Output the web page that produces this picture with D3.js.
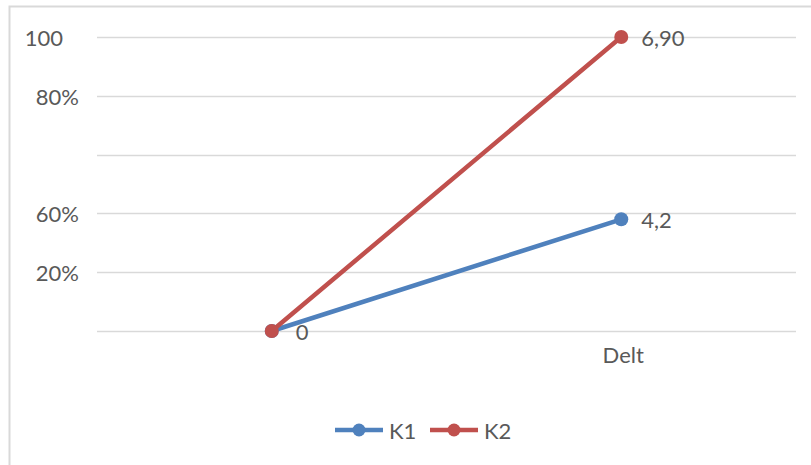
<!DOCTYPE html>
<html>
<head>
<meta charset="utf-8">
<script src="https://cdn.jsdelivr.net/npm/d3@7"></script>
<style>
  html, body { margin: 0; padding: 0; background: #fff; }
  svg { display: block; }
  text { font-family: Lato, "Open Sans", "Liberation Sans", sans-serif; fill: #595959; }
</style>
</head>
<body>
<svg id="chart" width="811" height="465"></svg>
<script>
// Categories along the x axis (first one is unlabeled)
const categories = ["", "Delt"];

// Series values
const k1Values = [0, 4.2];
const k2Values = [0, 6.9];

// Value labels shown next to the points
const k1Labels = ["0", "4,2"];
const k2Labels = ["", "6,90"];

// Y axis tick labels, from bottom gridline to top gridline
const yTickLabels = ["", "20%", "60%", "", "80%", "100"];

const series = [
  { name: "K1", values: k1Values, labels: k1Labels, color: "#4F81BD" },
  { name: "K2", values: k2Values, labels: k2Labels, color: "#C0504D" }
];

const FONT = 22;
const svg = d3.select("#chart");
const W = 811, H = 465;

// Chart frame
svg.append("rect")
  .attr("x", 9.5).attr("y", 6.5)
  .attr("width", W + 10).attr("height", H + 10)
  .attr("fill", "#fff")
  .attr("stroke", "#d9d9d9").attr("stroke-width", 2);

const plot = { left: 97, right: 796, top: 37, bottom: 331 };

const x = d3.scaleBand()
  .domain(categories.map((d, i) => i))
  .range([plot.left, plot.right]);

// Gridline slots (0 = bottom gridline, 5 = top gridline)
const grid = d3.scaleLinear()
  .domain([0, yTickLabels.length - 1])
  .range([plot.bottom, plot.top]);

// Value scale laid against the gridline slots
const y = d3.scaleLinear()
  .domain([0, 4.2, 6.9])
  .range([grid(0), grid(1.9), grid(5)]);

// Horizontal gridlines
svg.append("g")
  .selectAll("line")
  .data(d3.range(yTickLabels.length))
  .join("line")
  .attr("x1", plot.left).attr("x2", plot.right)
  .attr("y1", d => Math.round(grid(d)) + 0.5)
  .attr("y2", d => Math.round(grid(d)) + 0.5)
  .attr("stroke", "#d9d9d9").attr("stroke-width", 1.5);

// Y tick labels
svg.append("g")
  .selectAll("text")
  .data(yTickLabels)
  .join("text")
  .attr("x", (d, i) => i === yTickLabels.length - 1 ? 63 : 79)
  .attr("y", (d, i) => grid(i) + 1)
  .attr("dy", "0.35em")
  .attr("text-anchor", "end")
  .attr("font-size", FONT)
  .text(d => d);

// Category labels
svg.append("g")
  .selectAll("text")
  .data(categories)
  .join("text")
  .attr("x", (d, i) => x(i) + x.bandwidth() / 2 + 2)
  .attr("y", plot.bottom + 24)
  .attr("dy", "0.35em")
  .attr("text-anchor", "middle")
  .attr("font-size", FONT)
  .text(d => d);

const line = d3.line()
  .x((d, i) => x(i) + x.bandwidth() / 2)
  .y(d => y(d));

const sg = svg.append("g")
  .selectAll("g")
  .data(series)
  .join("g");

sg.append("path")
  .attr("d", d => line(d.values))
  .attr("fill", "none")
  .attr("stroke", d => d.color)
  .attr("stroke-width", 4.5)
  .attr("stroke-linecap", "round");

sg.selectAll("circle")
  .data(d => d.values.map(v => ({ v, color: d.color })))
  .join("circle")
  .attr("cx", (d, i) => x(i) + x.bandwidth() / 2)
  .attr("cy", d => y(d.v))
  .attr("r", 7)
  .attr("fill", d => d.color);

sg.selectAll("text.val")
  .data(d => d.values.map((v, i) => ({ v, label: d.labels[i] })))
  .join("text")
  .attr("class", "val")
  .attr("x", (d, i) => x(i) + x.bandwidth() / 2 + (i === 0 ? 24 : 20))
  .attr("y", d => y(d.v) + 1)
  .attr("dy", "0.35em")
  .attr("font-size", FONT)
  .text(d => d.label);

// Legend
const legend = svg.append("g").attr("transform", "translate(335,430)");
const items = legend.selectAll("g")
  .data(series)
  .join("g")
  .attr("transform", (d, i) => `translate(${i * 95},0)`);
items.append("line")
  .attr("x1", 0).attr("x2", 48)
  .attr("stroke", d => d.color).attr("stroke-width", 4.5);
items.append("circle")
  .attr("cx", 24).attr("r", 6.5)
  .attr("fill", d => d.color);
items.append("text")
  .attr("x", 54).attr("y", 1).attr("dy", "0.35em")
  .attr("font-size", FONT)
  .text(d => d.name);
</script>
</body>
</html>
